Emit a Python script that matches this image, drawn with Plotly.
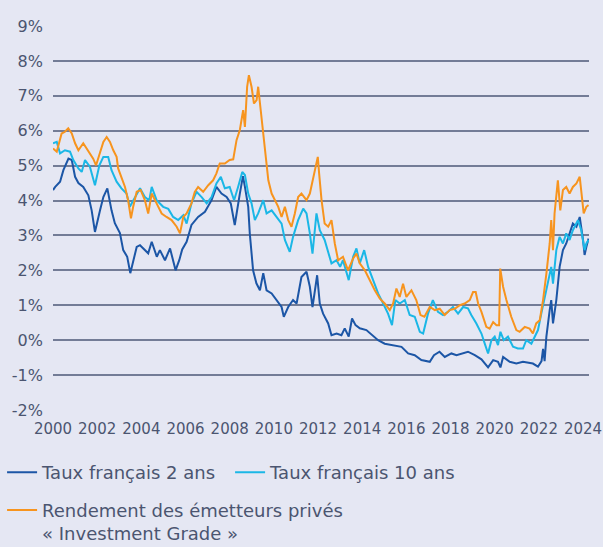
import plotly.graph_objects as go

# Decimal-year dates and yields (%)
t_2ans = [2000.00, 2000.10, 2000.32, 2000.47, 2000.70, 2000.85, 2001.00, 2001.15, 2001.37, 2001.60, 2001.75, 2001.90,
          2002.13, 2002.28, 2002.46, 2002.65, 2002.80, 2003.03, 2003.18, 2003.36, 2003.50, 2003.63, 2003.79, 2003.94,
          2004.16, 2004.31, 2004.47, 2004.70, 2004.84, 2005.07, 2005.30, 2005.55, 2005.72, 2005.85, 2006.05, 2006.27,
          2006.57, 2006.88, 2007.18, 2007.40, 2007.63, 2007.86, 2008.05, 2008.23, 2008.46, 2008.60, 2008.69, 2008.84,
          2008.91, 2008.99, 2009.06, 2009.21, 2009.37, 2009.52, 2009.67, 2009.90, 2010.12, 2010.35, 2010.45, 2010.65,
          2010.87, 2011.03, 2011.25, 2011.48, 2011.63, 2011.75, 2011.96, 2012.08, 2012.23, 2012.46, 2012.61, 2012.84,
          2013.06, 2013.21, 2013.39, 2013.54, 2013.70, 2013.89, 2014.19, 2014.49, 2014.72, 2015.02, 2015.40, 2015.78,
          2016.08, 2016.38, 2016.68, 2017.06, 2017.25, 2017.50, 2017.74, 2018.04, 2018.27, 2018.57, 2018.79, 2019.10,
          2019.40, 2019.70, 2019.93, 2020.15, 2020.26, 2020.38, 2020.68, 2020.98, 2021.28, 2021.73, 2021.96, 2022.12,
          2022.19, 2022.26, 2022.34, 2022.49, 2022.56, 2022.64, 2022.79, 2022.94, 2023.09, 2023.24, 2023.40, 2023.54,
          2023.70, 2023.85, 2024.00, 2024.07, 2024.15, 2024.25]
v_2ans = [4.30, 4.39, 4.54, 4.87, 5.20, 5.16, 4.68, 4.50, 4.39, 4.15, 3.72, 3.10,
          3.72, 4.10, 4.35, 3.72, 3.35, 3.07, 2.58, 2.39, 1.92, 2.29, 2.67, 2.72,
          2.58, 2.49, 2.82, 2.39, 2.58, 2.29, 2.63, 2.00, 2.30, 2.60, 2.82, 3.30,
          3.53, 3.68, 4.01, 4.39, 4.20, 4.10, 3.92, 3.30, 4.20, 4.70, 4.39, 3.82,
          3.06, 2.49, 2.00, 1.63, 1.43, 1.92, 1.43, 1.34, 1.15, 0.95, 0.67, 0.95,
          1.15, 1.05, 1.81, 1.96, 1.53, 0.95, 1.86, 1.05, 0.76, 0.48, 0.14, 0.19,
          0.14, 0.34, 0.10, 0.62, 0.43, 0.34, 0.29, 0.14, 0.00, -0.10, -0.14, -0.19,
          -0.38, -0.43, -0.57, -0.62, -0.43, -0.33, -0.48, -0.38, -0.43, -0.38, -0.33, -0.43,
          -0.55, -0.78, -0.57, -0.62, -0.78, -0.48, -0.62, -0.67, -0.62, -0.67, -0.76, -0.60,
          -0.25, -0.60, 0.10, 0.86, 1.15, 0.48, 1.15, 2.10, 2.58, 2.77, 3.06, 3.34,
          3.25, 3.53, 2.87, 2.44, 2.67, 2.91]

t_10ans = [2000.00, 2000.17, 2000.32, 2000.54, 2000.77, 2000.92, 2001.15, 2001.30, 2001.45, 2001.67, 2001.90, 2002.10,
           2002.28, 2002.50, 2002.65, 2002.88, 2003.10, 2003.33, 2003.48, 2003.71, 2003.94, 2004.16, 2004.36, 2004.47,
           2004.69, 2004.99, 2005.22, 2005.44, 2005.67, 2005.90, 2006.05, 2006.27, 2006.50, 2006.73, 2006.96, 2007.18,
           2007.40, 2007.60, 2007.78, 2008.00, 2008.20, 2008.38, 2008.57, 2008.69, 2008.84, 2008.99, 2009.14, 2009.29,
           2009.52, 2009.67, 2009.90, 2010.12, 2010.35, 2010.50, 2010.72, 2010.87, 2011.10, 2011.33, 2011.48, 2011.63,
           2011.75, 2011.93, 2012.08, 2012.30, 2012.46, 2012.61, 2012.84, 2013.00, 2013.13, 2013.39, 2013.59, 2013.74,
           2013.89, 2014.09, 2014.27, 2014.49, 2014.72, 2014.95, 2015.17, 2015.35, 2015.50, 2015.70, 2015.93, 2016.15,
           2016.38, 2016.61, 2016.76, 2016.98, 2017.20, 2017.43, 2017.66, 2017.88, 2018.11, 2018.34, 2018.57, 2018.79,
           2018.94, 2019.17, 2019.40, 2019.55, 2019.70, 2019.85, 2020.00, 2020.15, 2020.26, 2020.41, 2020.60, 2020.83,
           2021.05, 2021.28, 2021.43, 2021.66, 2021.81, 2021.96, 2022.11, 2022.26, 2022.41, 2022.56, 2022.64, 2022.79,
           2022.94, 2023.09, 2023.24, 2023.39, 2023.54, 2023.77, 2023.92, 2024.07, 2024.15, 2024.25]
v_10ans = [5.64, 5.68, 5.35, 5.44, 5.40, 5.16, 4.92, 4.82, 5.16, 4.97, 4.44, 5.01,
           5.25, 5.25, 4.87, 4.54, 4.35, 4.20, 3.82, 4.10, 4.35, 4.10, 4.01, 4.39,
           4.01, 3.82, 3.76, 3.53, 3.44, 3.58, 3.34, 3.92, 4.25, 4.10, 3.92, 4.10,
           4.49, 4.68, 4.35, 4.39, 4.01, 4.39, 4.82, 4.73, 4.20, 3.92, 3.44, 3.63,
           4.01, 3.63, 3.72, 3.53, 3.34, 2.87, 2.53, 2.96, 3.44, 3.77, 3.63, 3.06,
           2.48, 3.63, 3.15, 2.87, 2.48, 2.20, 2.29, 2.10, 2.29, 1.72, 2.39, 2.63,
           2.20, 2.58, 2.10, 1.72, 1.34, 1.05, 0.76, 0.43, 1.15, 1.05, 1.15, 0.72,
           0.67, 0.24, 0.19, 0.76, 1.15, 0.81, 0.72, 0.81, 0.95, 0.76, 0.95, 0.91,
           0.72, 0.48, 0.19, -0.10, -0.38, 0.00, 0.10, -0.14, 0.24, 0.00, 0.10, -0.19,
           -0.24, -0.24, 0.00, -0.10, 0.10, 0.29, 0.76, 1.24, 1.62, 2.10, 1.62, 2.58,
           2.96, 2.77, 3.06, 2.87, 3.15, 3.44, 3.15, 2.58, 2.77, 2.87]

t_ig = [2000.00, 2000.17, 2000.39, 2000.54, 2000.69, 2000.85, 2001.00, 2001.15, 2001.37, 2001.60, 2001.82, 2001.95,
        2002.13, 2002.28, 2002.43, 2002.58, 2002.73, 2002.88, 2002.95, 2003.10, 2003.26, 2003.40, 2003.53, 2003.63,
        2003.79, 2003.97, 2004.16, 2004.31, 2004.47, 2004.69, 2004.92, 2005.14, 2005.37, 2005.60, 2005.75, 2005.90,
        2006.05, 2006.27, 2006.42, 2006.57, 2006.80, 2007.03, 2007.25, 2007.40, 2007.55, 2007.78, 2008.00, 2008.16,
        2008.31, 2008.46, 2008.53, 2008.61, 2008.69, 2008.79, 2008.87, 2008.99, 2009.10, 2009.22, 2009.29, 2009.40,
        2009.52, 2009.64, 2009.75, 2009.90, 2010.05, 2010.20, 2010.35, 2010.50, 2010.65, 2010.80, 2010.95, 2011.10,
        2011.25, 2011.48, 2011.63, 2011.78, 2011.90, 2011.99, 2012.05, 2012.16, 2012.30, 2012.46, 2012.61, 2012.76,
        2012.91, 2013.13, 2013.36, 2013.59, 2013.74, 2013.89, 2014.12, 2014.34, 2014.57, 2014.80, 2015.02, 2015.25,
        2015.40, 2015.55, 2015.70, 2015.85, 2016.00, 2016.23, 2016.45, 2016.64, 2016.82, 2017.06, 2017.29, 2017.51,
        2017.74, 2017.96, 2018.19, 2018.42, 2018.64, 2018.87, 2019.02, 2019.14, 2019.25, 2019.40, 2019.62, 2019.77,
        2019.93, 2020.08, 2020.20, 2020.25, 2020.38, 2020.53, 2020.75, 2020.98, 2021.13, 2021.36, 2021.58, 2021.73,
        2021.88, 2022.04, 2022.19, 2022.34, 2022.49, 2022.56, 2022.64, 2022.71, 2022.76, 2022.86, 2022.97, 2023.09,
        2023.24, 2023.39, 2023.54, 2023.70, 2023.85, 2023.97, 2024.03, 2024.15, 2024.25]
v_ig = [5.49, 5.40, 5.92, 5.97, 6.07, 5.92, 5.64, 5.44, 5.64, 5.40, 5.20, 5.01,
        5.35, 5.68, 5.82, 5.68, 5.44, 5.25, 4.92, 4.68, 4.39, 4.01, 3.49, 3.82,
        4.25, 4.30, 4.01, 3.63, 4.20, 3.92, 3.63, 3.53, 3.44, 3.25, 3.06, 3.53,
        3.63, 3.92, 4.25, 4.39, 4.25, 4.44, 4.58, 4.78, 5.06, 5.06, 5.16, 5.18,
        5.73, 6.02, 6.30, 6.59, 6.11, 7.26, 7.59, 7.26, 6.78, 6.88, 7.26, 6.59,
        5.82, 5.16, 4.58, 4.20, 4.01, 3.82, 3.53, 3.82, 3.44, 3.25, 3.63, 4.10,
        4.20, 4.01, 4.20, 4.68, 4.97, 5.25, 4.78, 4.01, 3.34, 3.25, 3.44, 2.77,
        2.29, 2.39, 2.00, 2.34, 2.48, 2.20, 2.00, 1.72, 1.43, 1.19, 1.05, 0.86,
        1.05, 1.48, 1.24, 1.62, 1.24, 1.43, 1.15, 0.72, 0.67, 0.95, 0.86, 0.90,
        0.72, 0.86, 0.90, 1.00, 1.05, 1.15, 1.38, 1.38, 1.05, 0.81, 0.38, 0.33,
        0.52, 0.43, 0.43, 2.05, 1.53, 1.15, 0.67, 0.29, 0.24, 0.38, 0.33, 0.19,
        0.48, 0.57, 1.15, 1.91, 2.77, 3.44, 2.58, 3.63, 4.01, 4.58, 3.72, 4.30,
        4.39, 4.20, 4.39, 4.49, 4.68, 4.01, 3.63, 3.82, 3.87]

y_ticks = [-2, -1, 0, 1, 2, 3, 4, 5, 6, 7, 8, 9]
y_labels = [f"{v}%" for v in y_ticks]
x_ticks = list(range(2000, 2025, 2))

names = ["Taux français 2 ans", "Taux français 10 ans",
         "Rendement des émetteurs privés<br>« Investment Grade »"]
colors = ["#1c56a6", "#1bb7e6", "#f7941e"]
legend_ids = ["legend", "legend", "legend2"]

FONT = "DejaVu Sans"
TXT = "#4b5570"
BG = "#e5e7f3"

fig = go.Figure()
for t, v, n, c, lg in zip([t_2ans, t_10ans, t_ig], [v_2ans, v_10ans, v_ig], names, colors, legend_ids):
    fig.add_trace(go.Scatter(x=t, y=v, mode="lines", name=n, legend=lg,
                             line=dict(color=c, width=2)))

legend_common = dict(font=dict(size=18, color=TXT, family=FONT),
                     bgcolor="rgba(0,0,0,0)", valign="top", itemwidth=30,
                     xanchor="left", yanchor="top", borderwidth=0)

fig.update_layout(
    width=603, height=547,
    paper_bgcolor=BG, plot_bgcolor=BG,
    margin=dict(l=53, r=14, t=26, b=137, autoexpand=False),
    font=dict(family=FONT, color=TXT, size=15),
    showlegend=True,
    legend=dict(orientation="h", x=-0.095, y=-0.115,
                entrywidth=183, entrywidthmode="pixels", **legend_common),
    legend2=dict(orientation="v", x=-0.095, y=-0.213, **legend_common),
)
fig.update_xaxes(range=[2000, 2024.27], tickvals=x_ticks, ticktext=[str(x) for x in x_ticks],
                 showgrid=False, zeroline=False, showline=False, ticks="",
                 ticklabelstandoff=8,
                 tickfont=dict(size=15, color=TXT, family=FONT))
fig.update_yaxes(range=[-2, 9], tickvals=y_ticks, ticktext=y_labels,
                 showgrid=True, gridcolor="#737c96", gridwidth=1.5, zeroline=False,
                 showline=False, ticks="", ticklen=0, ticklabelstandoff=9,
                 tickfont=dict(size=16, color=TXT, family=FONT))

fig.write_html("out.html", config={"displayModeBar": False},
               post_script="document.body.style.margin='0';document.body.style.background='%s';" % BG)
